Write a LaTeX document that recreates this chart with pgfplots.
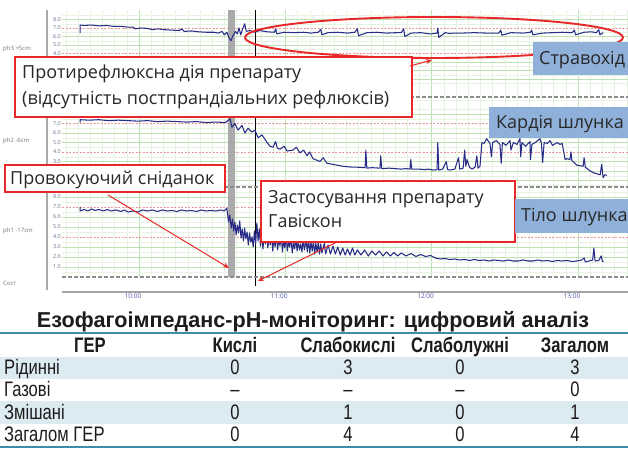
\documentclass[border=0pt]{standalone}
\usepackage{fontspec}
\setmainfont{Open Sans}
\newfontfamily\tabfont{Liberation Sans}
\newfontfamily\titlefont{Liberation Sans Bold}
\usepackage{graphicx}
\usepackage{pgfplots}
\usepackage{pgfplotstable}
\pgfplotsset{compat=1.18}
\usetikzlibrary{arrows.meta}
\newcommand{\cond}[1]{\scalebox{0.79}[1]{#1}}

\definecolor{tracec}{RGB}{40,44,135}
\definecolor{gmaj}{RGB}{190,225,180}
\definecolor{gmin}{RGB}{230,243,226}
\definecolor{reddash}{RGB}{235,150,150}
\definecolor{annred}{RGB}{232,40,40}
\definecolor{boxblue}{RGB}{143,176,217}
\definecolor{sepc}{RGB}{140,140,140}
\definecolor{bandgray}{RGB}{170,170,170}
\definecolor{tealline}{RGB}{60,140,170}
\definecolor{rowblue}{RGB}{220,234,242}
\definecolor{tickblue}{RGB}{80,90,170}
\definecolor{tickgray}{RGB}{110,115,150}
\definecolor{txt}{RGB}{30,27,28}
\definecolor{anntxt}{RGB}{40,40,40}

% pH traces, t = minutes after 10:00
\pgfplotstableread[row sep=\\]{
t ph\\
-21.7 6.40\\ -21.7 7.35\\ -20 7.30\\ -17 7.35\\ -14 7.25\\ -11 7.30\\ -8 7.20\\ -5 7.20\\ -2 7.10\\ 0 7.10\\ 1 6.90\\ 3 7.00\\ 6 6.95\\ 8 6.80\\ 10 6.90\\ 13 6.80\\ 16 6.75\\ 19 6.70\\ 20 6.90\\ 21 6.60\\ 24 6.65\\ 27 6.55\\ 30 6.50\\ 33 6.50\\ 35 6.40\\ 36.5 6.60\\ 37.5 6.20\\ 38.5 6.50\\ 39.5 5.80\\ 40.2 5.50\\ 41 6.10\\ 42 6.60\\ 42.8 6.30\\ 43.5 7.00\\ 44.2 6.20\\ 45 6.90\\ 45.8 7.50\\ 46.5 6.60\\ 48 6.70\\ 50 6.50\\ 52 6.70\\ 55 6.55\\ 58 6.50\\ 58.5 6.90\\ 59 6.30\\ 62 6.50\\ 66 6.45\\ 70 6.50\\ 73 6.40\\ 76 6.50\\ 77 6.85\\ 77.5 6.20\\ 80 6.45\\ 84 6.50\\ 88 6.40\\ 91 6.50\\ 92 6.90\\ 92.5 6.10\\ 96 6.45\\ 100 6.50\\ 104 6.40\\ 108 6.45\\ 110 6.45\\ 111 6.90\\ 111.5 6.00\\ 114 6.40\\ 118 6.45\\ 122 6.30\\ 124.7 6.40\\ 125 7.00\\ 125.4 5.90\\ 128 6.45\\ 130 6.35\\ 131 6.40\\ 135 6.40\\ 140 6.45\\ 145 6.40\\ 150 6.40\\ 150.8 6.75\\ 151.3 6.15\\ 155 6.45\\ 160 6.40\\ 163 6.50\\ 163.5 6.75\\ 164 6.20\\ 168 6.40\\ 172 6.45\\ 176 6.50\\ 180 6.45\\ 181 6.75\\ 181.5 6.20\\ 185 6.50\\ 188 6.55\\ 190 6.45\\ 191 6.80\\ 191.5 6.20\\ 192.8 6.45\\
}\phthree

\pgfplotstableread[row sep=\\]{
t ph\\
-21.7 7.10\\ -21.7 7.40\\ -18 7.35\\ -14 7.40\\ -10 7.30\\ -6 7.35\\ -2 7.30\\ 2 7.25\\ 6 7.30\\ 10 7.20\\ 14 7.25\\ 18 7.20\\ 22 7.15\\ 26 7.20\\ 30 7.10\\ 34 7.15\\ 38 7.10\\ 39.8 7.50\\ 40.6 6.60\\ 41.8 7.00\\ 43.1 6.30\\ 44.7 6.80\\ 45.9 6.00\\ 47.2 6.50\\ 48.8 6.10\\ 50.0 6.30\\ 51.3 5.50\\ 52.9 5.80\\ 55.0 5.00\\ 56.2 4.60\\ 57.4 4.50\\ 58.5 5.10\\ 59.2 4.40\\ 60.3 4.30\\ 62 4.60\\ 63.2 4.10\\ 65.6 4.20\\ 67 4.50\\ 68.5 3.90\\ 70 4.20\\ 71.4 3.60\\ 72.5 4.00\\ 73.8 3.30\\ 76.7 3.00\\ 78 3.40\\ 79.6 2.80\\ 82.0 2.70\\ 84 2.60\\ 86.1 2.50\\ 88 2.45\\ 90.2 2.40\\ 92 2.40\\ 95.2 2.35\\ 95.5 4.20\\ 95.9 2.30\\ 98 2.35\\ 101.3 2.30\\ 101.6 3.60\\ 102 2.25\\ 105 2.30\\ 107.5 2.25\\ 110 2.20\\ 112 2.25\\ 113.6 2.20\\ 113.9 3.20\\ 114.3 2.20\\ 117 2.20\\ 119.8 2.15\\ 121 2.20\\ 123 2.10\\ 124.7 2.15\\ 125 5.00\\ 125.4 2.10\\ 127 2.20\\ 128.5 3.00\\ 129 2.15\\ 130 2.10\\ 132 2.20\\ 133.5 3.40\\ 134 2.20\\ 135.4 2.30\\ 136 4.20\\ 136.5 2.50\\ 137 3.20\\ 138 2.40\\ 139 2.20\\ 140.3 2.40\\ 141 3.60\\ 141.5 2.30\\ 142.3 2.50\\ 143.1 5.00\\ 144 4.90\\ 145 5.40\\ 146.4 4.90\\ 147 3.50\\ 147.5 5.00\\ 149 5.20\\ 150.5 4.80\\ 151 2.80\\ 151.5 5.00\\ 153 4.70\\ 154.6 5.20\\ 155 4.20\\ 156 5.00\\ 157.5 4.80\\ 158.7 5.40\\ 159 3.50\\ 159.5 5.00\\ 161 4.60\\ 162.8 5.10\\ 163 3.20\\ 163.6 4.80\\ 165 5.00\\ 166.9 5.40\\ 167.5 4.90\\ 168 2.90\\ 168.6 5.00\\ 170 4.90\\ 171 5.20\\ 172 4.70\\ 174 5.00\\ 175.1 4.80\\ 176 4.90\\ 177.2 3.20\\ 178 3.30\\ 179.2 3.20\\ 179.6 4.00\\ 180 3.10\\ 182.1 2.60\\ 184.6 2.50\\ 185 3.40\\ 185.5 2.40\\ 187.5 2.00\\ 189 1.80\\ 191.6 1.60\\ 192.2 2.70\\ 192.8 1.30\\ 193.5 1.60\\ 194.4 1.55\\
}\phtwo

\pgfplotstableread[row sep=\\]{
t ph\\
-21.7 7.00\\ -21.7 6.60\\ -20 6.75\\ -18.5 6.60\\ -17 6.80\\ -15.5 6.65\\ -14 6.75\\ -12 6.60\\ -10.5 6.75\\ -9 6.60\\ -7 6.70\\ -5 6.55\\ -3.5 6.70\\ -2 6.50\\ 0 6.60\\ 2 6.50\\ 4 6.70\\ 6 6.60\\ 8 6.70\\ 10 6.55\\ 12 6.70\\ 14 6.60\\ 16 6.65\\ 18 6.55\\ 20 6.70\\ 22 6.60\\ 24 6.65\\ 26 6.55\\ 28 6.70\\ 30 6.60\\ 32 6.65\\ 34 6.60\\ 36 6.70\\ 37.5 6.60\\ 38.5 6.90\\ 39.2 5.50\\ 39.7 6.20\\ 40.3 4.90\\ 40.8 5.80\\ 41.3 4.60\\ 41.8 5.50\\ 42.3 4.20\\ 42.8 5.20\\ 43.3 4.40\\ 43.8 5.60\\ 44.3 3.90\\ 44.8 4.80\\ 45.3 3.60\\ 45.8 4.90\\ 46.3 3.80\\ 46.8 4.50\\ 47.3 3.20\\ 47.8 4.40\\ 48.3 3.50\\ 48.8 4.00\\ 49.3 3.00\\ 49.8 4.60\\ 50.3 3.30\\ 50.8 5.40\\ 51.3 3.60\\ 51.8 4.80\\ 52.3 3.10\\ 52.8 4.50\\ 53.3 2.80\\ 53.8 4.20\\ 54.3 3.30\\ 54.8 4.90\\ 55.3 2.90\\ 55.8 4.00\\ 56.3 3.20\\ 56.8 4.40\\ 57.3 2.60\\ 57.8 3.90\\ 58.3 3.00\\ 58.8 4.50\\ 59.3 2.70\\ 59.8 3.80\\ 60.3 3.10\\ 60.8 4.30\\ 61.3 2.50\\ 61.8 3.70\\ 62.3 2.90\\ 62.8 4.10\\ 63.3 2.60\\ 63.8 3.50\\ 64.3 3.00\\ 64.8 4.00\\ 65.3 2.40\\ 65.8 3.40\\ 66.3 2.80\\ 66.8 3.90\\ 67.3 2.60\\ 67.8 3.60\\ 68.3 2.70\\ 68.8 3.30\\ 69.3 2.50\\ 69.8 3.80\\ 70.3 2.70\\ 71 3.70\\ 71.5 2.50\\ 72 3.80\\ 72.5 2.40\\ 73 3.50\\ 73.5 2.60\\ 74 3.60\\ 74.5 2.30\\ 75 3.40\\ 75.5 2.50\\ 76 3.50\\ 76.5 2.30\\ 77 3.30\\ 77.5 2.40\\ 78.5 3.40\\ 79 2.30\\ 80 3.20\\ 81 2.30\\ 82 3.10\\ 83 2.30\\ 84 3.00\\ 85 2.20\\ 86 2.90\\ 87 2.20\\ 88 2.80\\ 89 2.20\\ 90 2.90\\ 91 2.20\\ 92 2.70\\ 93.5 2.20\\ 95 2.70\\ 96.5 2.10\\ 98 2.60\\ 99.5 2.20\\ 101 2.60\\ 102.5 2.10\\ 104 2.50\\ 105.5 2.10\\ 107 2.45\\ 108.5 2.10\\ 110 2.40\\ 112 2.10\\ 114 2.35\\ 116 2.05\\ 118 2.25\\ 120 2.05\\ 122 2.15\\ 124 1.90\\ 126 1.80\\ 128 1.85\\ 130 1.75\\ 132 1.80\\ 134 1.70\\ 136 1.75\\ 138 1.65\\ 140 1.75\\ 142 1.65\\ 144 1.70\\ 146 1.60\\ 148 1.70\\ 150 1.65\\ 152 1.60\\ 154 1.70\\ 156 1.60\\ 158 1.60\\ 160 1.70\\ 162 1.60\\ 164 1.60\\ 166 1.70\\ 168 1.60\\ 170 1.65\\ 172 1.55\\ 174 1.65\\ 176 1.60\\ 178 1.65\\ 180 1.55\\ 182 1.60\\ 184 1.70\\ 185 1.90\\ 185.5 1.50\\ 187 1.60\\ 188.5 1.70\\ 189 2.90\\ 189.5 1.60\\ 191 1.65\\ 192 2.10\\ 192.5 1.55\\ 193 1.60\\
}\phone

\pgfplotsset{
  panel/.style={
    scale only axis, width=566pt, xmin=-29.1, xmax=203,
    anchor=south west,
    axis line style={draw=none},
    major tick length=0pt, minor tick length=0pt,
    xtick={2.5,62.5,122.5,182.5}, xticklabels={},
    minor xtick={-27.5,-22.5,...,202.5},
    ytick={1,2,3,5,6,8},
    minor ytick={0.5,1.5,...,9.5},
    extra y ticks={4,7},
    extra y tick labels={4.0,7.0},
    extra y tick style={grid=major, major grid style={reddash, dash pattern=on 2pt off 1.5pt, line width=0.6pt}},
    grid=both,
    major grid style={gmaj, line width=0.5pt},
    minor grid style={gmin, line width=0.4pt},
    yticklabel style={font=\fontsize{5.5}{6}\selectfont, text=tickgray, inner sep=1pt},
  },
  trace/.style={tracec, line width=1.05pt, line join=round, no markers},
}
\newcommand{\eventmarks}{%
  \fill[bandgray] ({axis cs:38.97,0}|-{rel axis cs:0,0}) rectangle ({axis cs:41.84,0}|-{rel axis cs:0,1});
  \draw[black, line width=0.8pt] ({axis cs:50.25,0}|-{rel axis cs:0,0}) -- ({axis cs:50.25,0}|-{rel axis cs:0,1});
}

\begin{document}
\begin{tikzpicture}[x=1pt,y=1pt]
\useasboundingbox (0,0) rectangle (628,449);
\clip (0,0) rectangle (628,449);
\fill[white] (0,0) rectangle (628,449);

% panel ph3 (top)
\begin{axis}[panel, at={(62pt,352pt)}, height=87pt, ymin=-1.118, ymax=9.118,
  yticklabels={,,,5.0,6.0,8.0}]
\eventmarks
\addplot[trace] table[x=t, y=ph] {\phthree};
\end{axis}
% panel ph2
\begin{axis}[panel, at={(62pt,262pt)}, height=90pt, ymin=0.316, ymax=9.789,
  yticklabels={,,3.0,5.0,6.0,}]
\eventmarks
\addplot[trace] table[x=t, y=ph] {\phtwo};
\end{axis}
% panel ph1
\begin{axis}[panel, at={(62pt,172pt)}, height=90pt, ymin=0, ymax=9,
  yticklabels={1.0,2.0,3.0,5.0,6.0,8.0}]
\eventmarks
\addplot[trace] table[x=t, y=ph] {\phone};
\end{axis}
% time axis
\begin{axis}[at={(62pt,157pt)}, anchor=south west, scale only axis, width=566pt, height=15pt,
  xmin=-29.1, xmax=203, ymin=0, ymax=1,
  axis x line=bottom, axis y line=none,
  axis line style={-, draw=sepc!80, line width=1.5pt},
  xtick={0,60,120,180}, xticklabels={10:00,11:00,12:00,13:00},
  major tick length=0pt,
  xticklabel style={font=\fontsize{6.5}{7}\selectfont, text=tickblue, inner sep=2pt}]
\draw[black, line width=0.8pt] (axis cs:50.25,0.4) -- (axis cs:50.25,1);
\end{axis}

% separators
\foreach \yy in {352,262,172} {
  \draw[sepc, line width=1.2pt, dash pattern=on 4pt off 2pt] (62,\yy) -- (628,\yy);
}
% left frame line
\draw[bandgray, line width=2pt] (47,439) -- (47,159);
% channel labels
\begin{scope}[every node/.style={anchor=west, font=\fontsize{6}{7}\selectfont, text=black!55, inner sep=0pt}]
\node at (3,400) {ph3 +5cm};
\node at (3,308) {ph2 -6cm};
\node at (3,218) {ph1 -17cm};
\node at (3,166) {Сост};
\end{scope}

% ellipse
\draw[annred, line width=1.9pt] (434,411.5) ellipse [x radius=189, y radius=20.5];

% annotation boxes
\begin{scope}[every node/.style={anchor=base west, inner sep=0pt, text=anntxt, font=\fontsize{18}{22}\selectfont}]
\draw[annred, line width=1.2pt, fill=white] (15,332) rectangle (412,392);
\node at (22,370) {Протирефлюксна дія препарату};
\node at (22,344) {(відсутність постпрандіальних рефлюксів)};
\draw[annred, line width=1.2pt, fill=white] (5,257) rectangle (225,284);
\node at (10,264.5) {Провокуючий сніданок};
\draw[annred, line width=1.2pt, fill=white] (261,207) rectangle (515,268);
\node at (268,245) {Застосування препарату};
\node at (268,221) {Гавіскон};
\fill[boxblue] (533,374) rectangle (640,407);
\node at (539,384.5) {Стравохід};
\fill[boxblue] (489,311) rectangle (640,342);
\node at (496,320.5) {Кардія шлунка};
\fill[boxblue] (515,216) rectangle (640,250);
\node at (521,227) {Тіло шлунка};
\end{scope}

% arrows
\draw[annred, line width=1pt, -{Stealth[length=6pt,width=5pt]}] (410,383) -- (432,389);
\draw[annred, line width=1pt, -{Stealth[length=6pt,width=5pt]}] (108,254) -- (229,181);
\draw[annred, line width=1pt, -{Stealth[length=6pt,width=5pt]}] (337,207) -- (258,168);

% table
\node[text=txt, inner sep=0pt] at (313,127) {\resizebox{552pt}{!}{\titlefont\fontsize{21}{24}\selectfont Езофагоімпеданс-рН-моніторинг: цифровий аналіз}};
\fill[rowblue] (0,70) rectangle (628,92);
\fill[rowblue] (0,25) rectangle (628,48);
\draw[tealline, line width=1.8pt] (0,116) -- (628,116);
\draw[tealline, line width=2pt] (0,2) -- (628,2);
\begin{scope}[every node/.style={anchor=base, inner sep=0pt, text=txt, font=\tabfont\fontsize{21}{23}\selectfont}]
\node[font=\titlefont\fontsize{21}{23}\selectfont] at (90,96) {\cond{ГЕР}};
\node[font=\titlefont\fontsize{21}{23}\selectfont] at (235,96) {\cond{Кислі}};
\node[font=\titlefont\fontsize{21}{23}\selectfont] at (348,96) {\cond{Слабокислі}};
\node[font=\titlefont\fontsize{21}{23}\selectfont] at (460,96) {\cond{Слаболужні}};
\node[font=\titlefont\fontsize{21}{23}\selectfont] at (575,96) {\cond{Загалом}};
\node[anchor=base west] at (4,74) {\cond{Рідинні}};
\node at (235,74) {\cond{0}}; \node at (348,74) {\cond{3}}; \node at (460,74) {\cond{0}}; \node at (575,74) {\cond{3}};
\node[anchor=base west] at (4,52) {\cond{Газові}};
\node at (235,52) {\cond{–}}; \node at (348,52) {\cond{–}}; \node at (460,52) {\cond{–}}; \node at (575,52) {\cond{0}};
\node[anchor=base west] at (4,29.5) {\cond{Змішані}};
\node at (235,29.5) {\cond{0}}; \node at (348,29.5) {\cond{1}}; \node at (460,29.5) {\cond{0}}; \node at (575,29.5) {\cond{1}};
\node[anchor=base west] at (4,7.5) {\cond{Загалом ГЕР}};
\node at (235,7.5) {\cond{0}}; \node at (348,7.5) {\cond{4}}; \node at (460,7.5) {\cond{0}}; \node at (575,7.5) {\cond{4}};
\end{scope}
\end{tikzpicture}
\end{document}
